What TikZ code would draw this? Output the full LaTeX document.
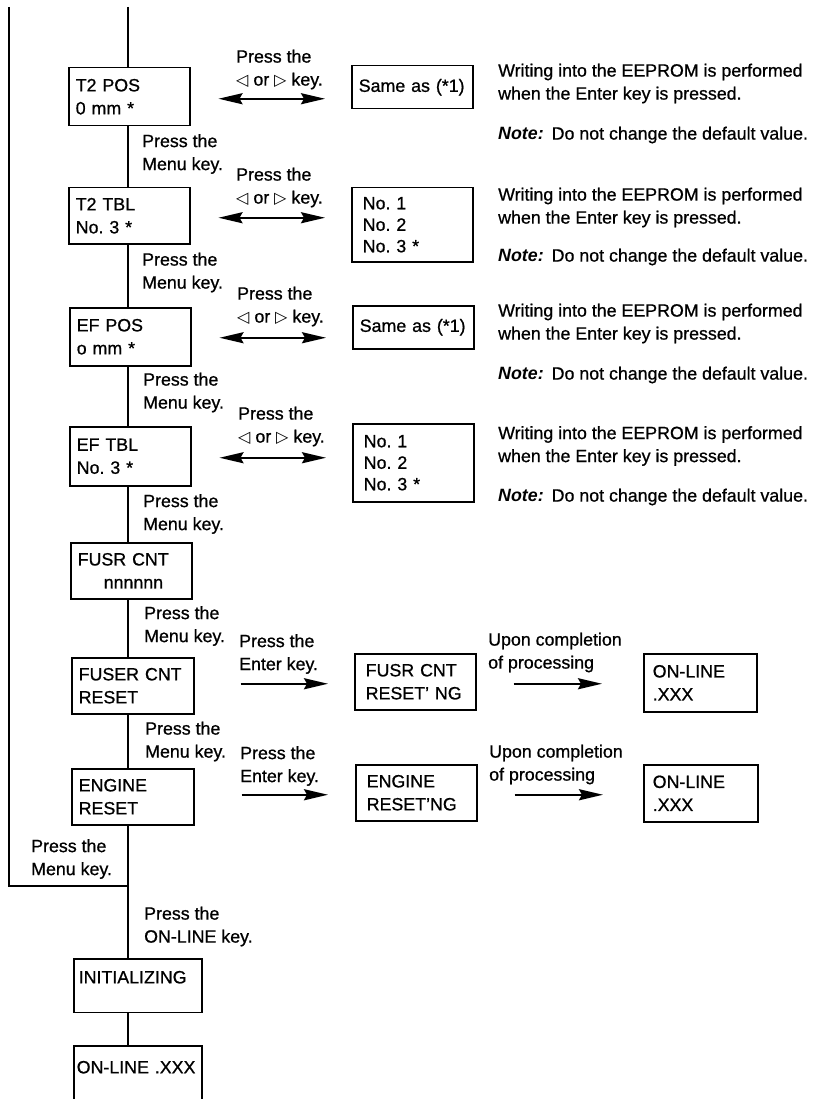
\documentclass[tikz,border=0pt]{standalone}
\usepackage{fontspec}
\setmainfont{Liberation Sans}[UprightFeatures={FakeBold=0.8}]
\newfontfamily\symf{DejaVu Sans}
\usetikzlibrary{arrows.meta}
\frenchspacing
\newcommand{\trL}{{\symf\fontsize{16}{16}\selectfont ◁}}
\newcommand{\trR}{{\symf\fontsize{16}{16}\selectfont ▷}}
\newcommand{\notehead}{\textbf{\textit{Note:}}\hspace{8pt}}
\begin{document}
\begin{tikzpicture}[x=1pt,y=-1pt,
  every node/.style={font=\fontsize{17.8}{23}\selectfont, inner sep=0pt},
  box/.style={draw, line width=1.5pt, anchor=north west, inner xsep=7pt, inner ysep=0pt, align=left},
  lbl/.style={anchor=west, align=left},
  conn/.style={line width=1.2pt},
  dbl/.style={line width=2.2pt, {Stealth[length=24pt,width=11pt,inset=3pt]}-{Stealth[length=24pt,width=11pt,inset=3pt]}},
  sgl/.style={line width=2.2pt, -{Stealth[length=24pt,width=11pt,inset=3pt]}}]
\useasboundingbox (0,0) rectangle (819,1099);

% spine coordinates
\coordinate (top) at (128,7);
\coordinate (ltop) at (9,7);
\coordinate (join) at (128,886);
\coordinate (lcorner) at (9,886);

% left column boxes
\node[box, text width=107pt, minimum height=58pt] (t2pos) at (68,67) {T2 POS\\0 mm *};
\node[box, text width=107pt, minimum height=56pt] (t2tbl) at (68,187) {T2 TBL\\No. 3 *};
\node[box, text width=107pt, minimum height=58pt] (efpos) at (69,307) {EF POS\\o mm *};
\node[box, text width=107pt, minimum height=59pt] (eftbl) at (69,426) {EF TBL\\No. 3 *};
\node[box, text width=107pt, minimum height=56pt] (fusr) at (70,542) {FUSR CNT\\\hspace*{26pt}nnnnnn};
\node[box, text width=108pt, minimum height=56pt] (fuser) at (71,657) {FUSER CNT\\RESET};
\node[box, text width=108pt, minimum height=56pt] (engine) at (71,768) {ENGINE\\RESET};
\node[box, inner xsep=5pt, text width=118pt, inner ysep=12pt, text height=12.6pt, text depth=17pt] (init) at (73,958) {INITIALIZING};
\node[box, inner xsep=3pt, text width=122pt, inner ysep=15pt, text height=12.6pt, text depth=80pt] (online) at (73,1045) {\mbox{ON-LINE .XXX}};

% right column boxes
\node[box, inner xsep=7pt, text width=107pt, minimum height=43pt] (same1) at (351,65) {Same as (*1)};
\node[box, inner xsep=11pt, text width=99pt, minimum height=74pt] (nos1) at (351,187) {No. 1\\[-1.5pt]No. 2\\[-1.5pt]No. 3 *};
\node[box, inner xsep=7pt, text width=107pt, minimum height=43pt] (same2) at (352,305) {Same as (*1)};
\node[box, inner xsep=11pt, text width=99pt, minimum height=78pt] (nos2) at (352,423) {No. 1\\[-1.5pt]No. 2\\[-1.5pt]No. 3 *};
\node[box, inner xsep=11pt, text width=99pt, minimum height=56pt] (fusrng) at (354,653) {FUSR CNT\\RESET' NG};
\node[box, inner xsep=11pt, text width=99pt, minimum height=56pt] (engng) at (355,764) {ENGINE\\RESET'NG};
\node[box, inner xsep=9pt, text width=95pt, minimum height=58pt] (on1) at (643,653) {ON-LINE\\.XXX};
\node[box, inner xsep=9pt, text width=96pt, minimum height=57pt] (on2) at (643,764) {ON-LINE\\.XXX};

% spine connectors
\draw[conn] (top) -- (t2pos.north -| top);
\draw[conn] (t2pos.south -| top) -- (t2tbl.north -| top);
\draw[conn] (t2tbl.south -| top) -- (efpos.north -| top);
\draw[conn] (efpos.south -| top) -- (eftbl.north -| top);
\draw[conn] (eftbl.south -| top) -- (fusr.north -| top);
\draw[conn] (fusr.south -| top) -- (fuser.north -| top);
\draw[conn] (fuser.south -| top) -- (engine.north -| top);
\draw[conn] (engine.south -| top) -- (join);
\draw[conn] (join) -- (init.north -| top);
\draw[conn] (init.south -| top) -- (online.north -| top);
\draw[conn] (ltop) -- (lcorner) -- (join);

% horizontal arrows
\draw[dbl, shorten <=28pt, shorten >=26pt] ([yshift=-2pt]t2pos.east) -- ([yshift=-2pt]t2pos.east -| same1.west);
\draw[dbl, shorten <=28pt, shorten >=26pt] ([yshift=-2pt]t2tbl.east) -- ([yshift=-2pt]t2tbl.east -| nos1.west);
\draw[dbl, shorten <=28pt, shorten >=26pt] ([yshift=-1pt]efpos.east) -- ([yshift=-1pt]efpos.east -| same2.west);
\draw[dbl, shorten <=28pt, shorten >=26pt] ([yshift=-1.5pt]eftbl.east) -- ([yshift=-1.5pt]eftbl.east -| nos2.west);
\draw[sgl, shorten <=46pt, shorten >=26pt] ([yshift=2pt]fuser.east) -- ([yshift=2pt]fuser.east -| fusrng.west);
\draw[sgl, shorten <=47pt, shorten >=27pt] ([yshift=2pt]engine.east) -- ([yshift=2pt]engine.east -| engng.west);
\draw[sgl, shorten <=37pt, shorten >=41pt] ([yshift=-2pt]fusrng.east) -- ([yshift=-2pt]fusrng.east -| on1.west);
\draw[sgl, shorten <=37pt, shorten >=40pt] ([yshift=-2pt]engng.east) -- ([yshift=-2pt]engng.east -| on2.west);

% arrow labels
\node[lbl] (l1) at (236,69.5) {Press the\\\trL{} or \trR{} key.};
\node[lbl] (l2) at (236,187.5) {Press the\\\trL{} or \trR{} key.};
\node[lbl] (l3) at (237,306.5) {Press the\\\trL{} or \trR{} key.};
\node[lbl] (l4) at (238,426.5) {Press the\\\trL{} or \trR{} key.};
\node[lbl] (l5) at (239,654) {Press the\\Enter key.};
\node[lbl] (l6) at (240,766) {Press the\\Enter key.};
\node[lbl] (l7) at (488,652.5) {Upon completion\\of processing};
\node[lbl] (l8) at (489,764.5) {Upon completion\\of processing};

% menu labels
\node[lbl] (m1) at (142,154) {Press the\\Menu key.};
\node[lbl] (m2) at (142,272.5) {Press the\\Menu key.};
\node[lbl] (m3) at (143,392.5) {Press the\\Menu key.};
\node[lbl] (m4) at (143,514) {Press the\\Menu key.};
\node[lbl] (m5) at (144,626) {Press the\\Menu key.};
\node[lbl] (m6) at (145,741.5) {Press the\\Menu key.};
\node[lbl] (m7) at (31,859) {Press the\\Menu key.};
\node[lbl] (m8) at (144,926.5) {Press the\\ON-LINE key.};

% notes
\node[lbl] (n1) at (498,83.5) {Writing into the EEPROM is performed\\when the Enter key is pressed.};
\node[lbl] (n1b) at (498,135) {\notehead Do not change the default value.};
\node[lbl] (n2) at (498,207.5) {Writing into the EEPROM is performed\\when the Enter key is pressed.};
\node[lbl] (n2b) at (498,257) {\notehead Do not change the default value.};
\node[lbl] (n3) at (498,323.5) {Writing into the EEPROM is performed\\when the Enter key is pressed.};
\node[lbl] (n3b) at (498,375) {\notehead Do not change the default value.};
\node[lbl] (n4) at (498,446) {Writing into the EEPROM is performed\\when the Enter key is pressed.};
\node[lbl] (n4b) at (498,497) {\notehead Do not change the default value.};
\end{tikzpicture}
\end{document}
